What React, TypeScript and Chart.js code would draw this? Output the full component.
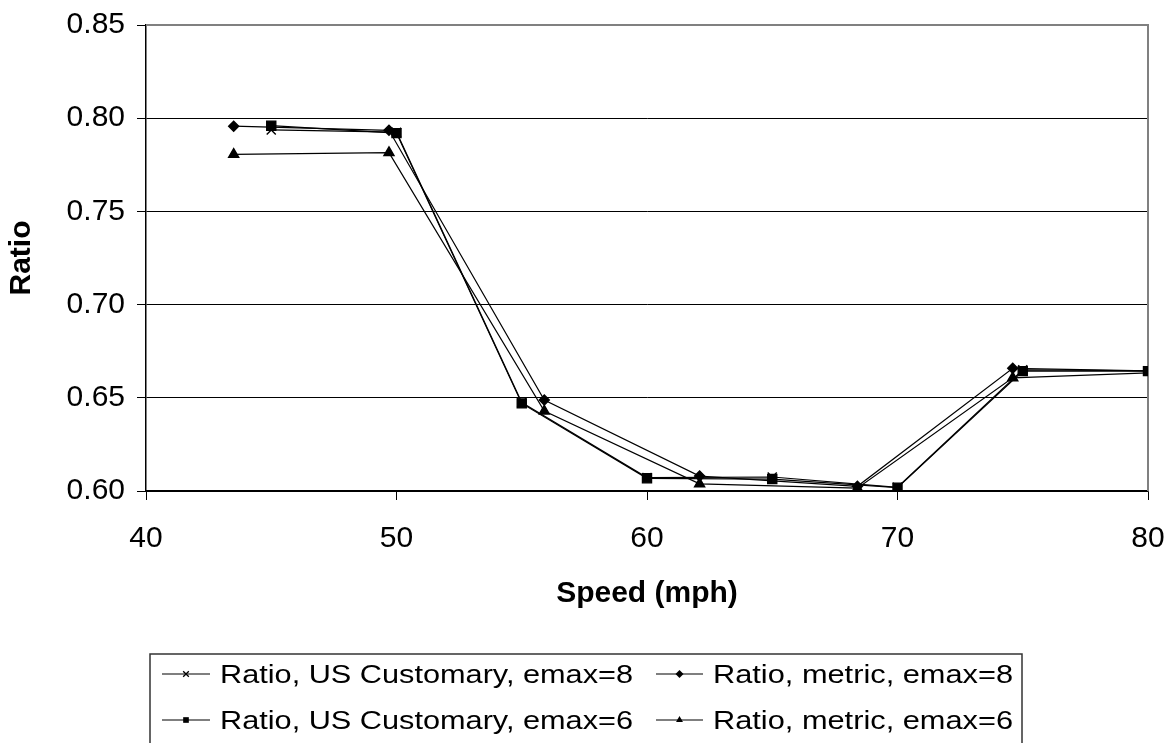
import React, { useEffect, useRef } from "react";
import { Chart, registerables } from "chart.js";

Chart.register(...registerables);

const usSpeeds = [45, 50, 55, 60, 65, 70, 75, 80];
const metricSpeeds = [43.5, 49.7, 55.9, 62.1, 68.4, 74.6, 80.8];

const usEmax8 = [0.7937, 0.7925, 0.6475, 0.6072, 0.6075, 0.602, 0.665, 0.6645];
const metricEmax8 = [0.7957, 0.7935, 0.6488, 0.608, 0.6025, 0.6658, 0.6642];
const usEmax6 = [0.796, 0.792, 0.647, 0.6068, 0.6064, 0.6018, 0.6643, 0.6643];
const metricEmax6 = [0.7806, 0.7815, 0.6429, 0.6038, 0.6015, 0.6607, 0.6638];

const seriesLabels = [
  "Ratio, US Customary, emax=8",
  "Ratio, metric, emax=8",
  "Ratio, US Customary, emax=6",
  "Ratio, metric, emax=6",
];

const yTicks = [0.6, 0.65, 0.7, 0.75, 0.8, 0.85];
const xTicks = [40, 50, 60, 70, 80];

const FONT = "'Liberation Sans', Arial, sans-serif";

function pts(xs: number[], ys: number[]) {
  return xs.map((x, i) => ({ x, y: ys[i] }));
}

function drawMarker(ctx: CanvasRenderingContext2D, style: string, x: number, y: number, r: number) {
  ctx.beginPath();
  if (style === "crossRot") {
    const d = r * 0.7071;
    ctx.moveTo(x - d, y - d);
    ctx.lineTo(x + d, y + d);
    ctx.moveTo(x + d, y - d);
    ctx.lineTo(x - d, y + d);
    ctx.stroke();
  } else if (style === "rectRot") {
    ctx.moveTo(x, y - r);
    ctx.lineTo(x + r, y);
    ctx.lineTo(x, y + r);
    ctx.lineTo(x - r, y);
    ctx.closePath();
    ctx.fill();
  } else if (style === "rect") {
    const s = r * 0.7071;
    ctx.rect(x - s, y - s, 2 * s, 2 * s);
    ctx.fill();
  } else if (style === "triangle") {
    ctx.moveTo(x, y - r);
    ctx.lineTo(x + r * 0.866, y + r * 0.5);
    ctx.lineTo(x - r * 0.866, y + r * 0.5);
    ctx.closePath();
    ctx.fill();
  }
}

const styles = ["crossRot", "rectRot", "rect", "triangle"];

const plotBorderPlugin = {
  id: "plotBorder",
  beforeDatasetsDraw(chart: any) {
    const { ctx, chartArea } = chart;
    ctx.save();
    ctx.strokeStyle = "#808080";
    ctx.lineWidth = 2;
    ctx.beginPath();
    ctx.moveTo(chartArea.left, chartArea.top);
    ctx.lineTo(chartArea.right, chartArea.top);
    ctx.lineTo(chartArea.right, chartArea.bottom);
    ctx.stroke();
    ctx.restore();
  },
};

const boxLegendPlugin = {
  id: "boxLegend",
  afterDraw(chart: any) {
    const ctx: CanvasRenderingContext2D = chart.ctx;
    ctx.save();
    ctx.strokeStyle = "#333";
    ctx.lineWidth = 1.5;
    ctx.strokeRect(150, 654, 872, 120);

    const cols = [
      { lx0: 162, lx1: 210, tx: 220, tw: 413 },
      { lx0: 656, lx1: 703, tx: 713, tw: 300 },
    ];
    const rows = [{ cy: 674, base: 683 }, { cy: 720, base: 728.5 }];
    ctx.font = `25px ${FONT}`;
    ctx.fillStyle = "#000";
    ctx.textBaseline = "alphabetic";
    chart.data.datasets.forEach((ds: any, i: number) => {
      const c = cols[i % 2];
      const r = rows[Math.floor(i / 2)];
      ctx.strokeStyle = "#000";
      ctx.lineWidth = 1.2;
      ctx.beginPath();
      ctx.moveTo(c.lx0, r.cy);
      ctx.lineTo(c.lx1, r.cy);
      ctx.stroke();
      ctx.lineWidth = 1.3;
      drawMarker(ctx, styles[i], (c.lx0 + c.lx1) / 2, r.cy, 4);
      const w = ctx.measureText(ds.label).width;
      ctx.save();
      ctx.translate(c.tx, r.base);
      ctx.scale(c.tw / w, 1);
      ctx.fillText(ds.label, 0, 0);
      ctx.restore();
    });
    ctx.restore();
  },
};

export default function App() {
  const ref = useRef<HTMLCanvasElement>(null);

  useEffect(() => {
    document.body.style.margin = "0";
    const canvas = ref.current!;
    Chart.defaults.font.family = FONT;
    Chart.defaults.color = "#000";

    const common = {
      borderColor: "#000",
      backgroundColor: "#000",
      borderWidth: 1.2,
      pointBorderWidth: 1.4,
      pointBorderColor: "#000",
      pointBackgroundColor: "#000",
      showLine: true,
      tension: 0,
    };

    const chart = new Chart(canvas, {
      type: "scatter",
      data: {
        datasets: [
          { ...common, label: seriesLabels[0], data: pts(usSpeeds, usEmax8), pointStyle: "crossRot", pointRadius: 6.4 },
          { ...common, label: seriesLabels[1], data: pts(metricSpeeds, metricEmax8), pointStyle: "rectRot", pointRadius: 5 },
          { ...common, label: seriesLabels[2], data: pts(usSpeeds, usEmax6), pointStyle: "rect", pointRadius: 6.4 },
          { ...common, label: seriesLabels[3], data: pts(metricSpeeds, metricEmax6), pointStyle: "triangle", pointRadius: 5.8 },
        ],
      },
      options: {
        animation: false,
        responsive: false,
        maintainAspectRatio: false,
        layout: { padding: { left: 0, top: 25, right: 22, bottom: 131 } },
        plugins: { legend: { display: false }, tooltip: { enabled: false } },
        scales: {
          x: {
            type: "linear",
            min: 40,
            max: 80,
            afterBuildTicks: (scale: any) => {
              scale.ticks = xTicks.map((v) => ({ value: v }));
            },
            afterFit: (scale: any) => {
              scale.height = 121;
              scale.paddingLeft = 0;
              scale.paddingRight = 0;
              scale.paddingTop = 0;
              scale.paddingBottom = 0;
            },
            ticks: {
              autoSkip: false,
              maxRotation: 0,
              padding: 21,
              font: { size: 30 },
              color: "#000",
              callback: (v: any) => String(v),
            },
            grid: {
              drawOnChartArea: false,
              drawTicks: true,
              tickLength: 9,
              tickColor: "#000",
              tickWidth: 1,
            },
            border: { color: "#000", width: 1.5 },
            title: {
              display: true,
              text: "Speed (mph)",
              font: { size: 30, weight: "bold" },
              color: "#000",
              padding: { top: 0, bottom: 0 },
            },
          },
          y: {
            type: "linear",
            min: 0.6,
            max: 0.85,
            afterBuildTicks: (scale: any) => {
              scale.ticks = yTicks.map((v) => ({ value: v }));
            },
            afterFit: (scale: any) => {
              scale.width = 146;
              scale.paddingLeft = 0;
              scale.paddingRight = 0;
              scale.paddingTop = 0;
              scale.paddingBottom = 0;
            },
            ticks: {
              padding: 12,
              font: { size: 30 },
              color: "#000",
              callback: (v: any) => Number(v).toFixed(2),
            },
            grid: {
              color: (c: any) => (c.tick && Math.abs(c.tick.value - 0.85) < 1e-6 ? "rgba(0,0,0,0)" : "#000"),
              lineWidth: 1,
              drawTicks: true,
              tickLength: 9,
              tickColor: "#000",
              tickWidth: 1,
            },
            border: { color: "#000", width: 1.5 },
            title: {
              display: true,
              text: "Ratio",
              font: { size: 30, weight: "bold" },
              color: "#000",
              padding: { top: 4, bottom: 0 },
            },
          },
        },
      },
      plugins: [plotBorderPlugin, boxLegendPlugin],
    } as any);

    return () => chart.destroy();
  }, []);

  return (
    <div style={{ position: "absolute", left: 0, top: 0, width: 1170, height: 743 }}>
      <canvas ref={ref} width={1170} height={743} style={{ width: 1170, height: 743, display: "block" }} />
    </div>
  );
}
